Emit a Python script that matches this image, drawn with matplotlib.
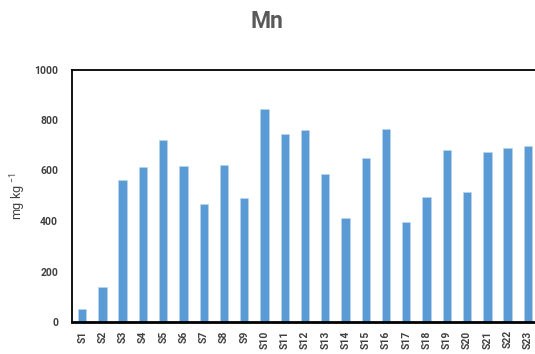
import matplotlib
matplotlib.use("Agg")
import matplotlib.pyplot as plt

categories = [f"S{i}" for i in range(1, 24)]
values = [50, 140, 563, 615, 721, 619, 468, 620, 491, 844, 746, 762, 587,
          413, 648, 765, 397, 496, 680, 515, 672, 690, 697]
yticks = [0, 200, 400, 600, 800, 1000]

plt.rcParams['font.family'] = ['Roboto', 'DejaVu Sans']
plt.rcParams['mathtext.default'] = 'regular'

W, H = 535, 354
fig = plt.figure(figsize=(W / 100, H / 100), dpi=100)
left, right, top, bottom = 72, 538, 69.5, 322
ax = fig.add_axes([left / W, 1 - bottom / H, (right - left) / W, (bottom - top) / H])

x = list(range(len(categories)))
ax.bar(x, values, width=0.41, color='#5B9BD5', edgecolor='#BDD7EE', linewidth=0.4)
ax.set_xlim(-0.5, len(categories) - 0.5)
ax.set_ylim(0, 1000)
ax.set_yticks(yticks)
ax.set_yticklabels([str(t) for t in yticks], fontsize=7.5, fontweight='bold', color='#404040')
ax.set_xticks(x)
ax.set_xticklabels(categories, rotation=90, fontsize=7.5, fontweight='bold', color='#404040')
ax.tick_params(length=0, pad=10)
ax.tick_params(axis='x', pad=6)
for s in ['top', 'left', 'right']:
    ax.spines[s].set_linewidth(1.3)
    ax.spines[s].set_color('black')
ax.spines['bottom'].set_linewidth(2.0)
ax.spines['bottom'].set_color('black')

fig.text(18 / W, 1 - 196 / H, 'mg kg $^{-1}$', rotation=90, fontsize=9,
         color='#404040', ha='center', va='center')
fig.text(267 / W, 1 - 21 / H, 'Mn', fontsize=16.5, fontweight='bold',
         color='#595959', ha='center', va='center')

fig.savefig('out.png', dpi=100, facecolor='white')
